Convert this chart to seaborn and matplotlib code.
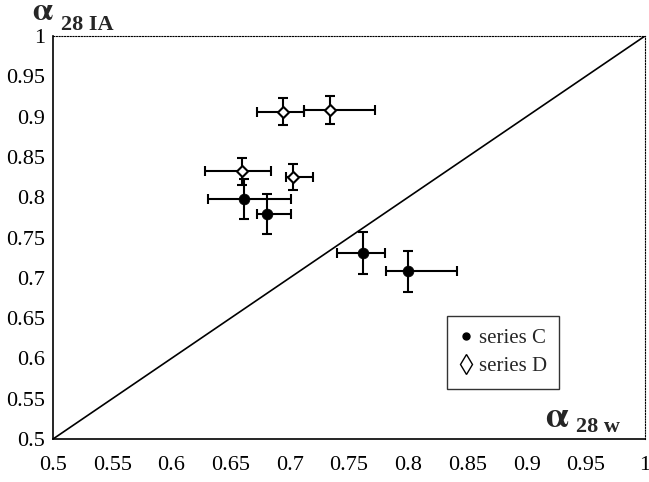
import numpy as np
import pandas as pd
import matplotlib
matplotlib.use("Agg")
import matplotlib.pyplot as plt
import seaborn as sns
from matplotlib.lines import Line2D

# ---- data ----
series_c_x = [0.661, 0.681, 0.762, 0.800]
series_c_y = [0.798, 0.779, 0.731, 0.708]
series_c_xerr_lo = [0.030, 0.009, 0.022, 0.019]
series_c_xerr_hi = [0.040, 0.020, 0.018, 0.041]
series_c_yerr = [0.025, 0.025, 0.026, 0.025]

series_d_x = [0.660, 0.703, 0.694, 0.734]
series_d_y = [0.832, 0.825, 0.906, 0.908]
series_d_xerr_lo = [0.032, 0.006, 0.022, 0.022]
series_d_xerr_hi = [0.024, 0.017, 0.018, 0.038]
series_d_yerr = [0.017, 0.016, 0.017, 0.017]

ticks = [0.5, 0.55, 0.6, 0.65, 0.7, 0.75, 0.8, 0.85, 0.9, 0.95, 1.0]
tick_labels = ["0.5", "0.55", "0.6", "0.65", "0.7", "0.75", "0.8", "0.85", "0.9", "0.95", "1"]
legend_labels = ["series C", "series D"]

df = pd.DataFrame({
    "x": series_c_x + series_d_x,
    "y": series_c_y + series_d_y,
    "series": ["C"] * 4 + ["D"] * 4,
})

sns.set_style("white")
plt.rcParams["font.family"] = ["Liberation Serif", "DejaVu Serif"]
plt.rcParams["mathtext.fontset"] = "stix"

fig = plt.figure(figsize=(6.49, 4.82), dpi=100)
ax = fig.add_axes([0.0817, 0.0892, 0.9121, 0.8361])

# diagonal y = x
ax.axline((0.5, 0.5), slope=1, color="black", lw=1.2, zorder=1)

# error bars
ax.errorbar(series_c_x, series_c_y, xerr=[series_c_xerr_lo, series_c_xerr_hi],
            yerr=series_c_yerr, fmt="none", ecolor="black", elinewidth=1.5,
            capsize=3.5, capthick=1.5, zorder=2)
ax.errorbar(series_d_x, series_d_y, xerr=[series_d_xerr_lo, series_d_xerr_hi],
            yerr=series_d_yerr, fmt="none", ecolor="black", elinewidth=1.5,
            capsize=3.5, capthick=1.5, zorder=2)

# points
sns.scatterplot(data=df[df.series == "C"], x="x", y="y", ax=ax, marker="o",
                s=60, color="black", edgecolor="black", linewidth=0.5, zorder=3, legend=False)
sns.scatterplot(data=df[df.series == "D"], x="x", y="y", ax=ax, marker="D",
                s=32, facecolor="white", edgecolor="black", linewidth=1.5, zorder=3, legend=False)

ax.set_xlim(0.5, 1.0)
ax.set_ylim(0.5, 1.0)
ax.set_xticks(ticks)
ax.set_yticks(ticks)
ax.set_xticklabels(tick_labels)
ax.set_yticklabels(tick_labels)
ax.set_xlabel("")
ax.set_ylabel("")
ax.tick_params(axis="both", direction="inout", length=7, width=1, color="black",
               labelsize=16, labelcolor="black")
ax.tick_params(axis="x", pad=9)
ax.tick_params(axis="y", pad=2)

for side in ["left", "bottom"]:
    ax.spines[side].set_color("black")
    ax.spines[side].set_linewidth(1.2)
for side in ["top", "right"]:
    ax.spines[side].set_visible(True)
    ax.spines[side].set_color("black")
    ax.spines[side].set_linewidth(0.8)
    ax.spines[side].set_linestyle((0, (1, 1.5)))

# axis titles
fig.text(0.050, 0.944, r"$\mathbf{\alpha}$", fontsize=23, ha="left", va="bottom")
fig.text(0.094, 0.938, "28 IA", fontsize=16, fontweight="bold", ha="left", va="baseline")
fig.text(0.840, 0.114, r"$\mathbf{\alpha}$", fontsize=26, ha="left", va="baseline")
fig.text(0.888, 0.104, "28 w", fontsize=16, fontweight="bold", ha="left", va="baseline")

handles = [
    Line2D([], [], ls="none", marker="o", markersize=5, color="black"),
    Line2D([], [], ls="none", marker="d", markersize=10, mfc="white", mec="black", mew=1.0),
]
leg = ax.legend(handles, legend_labels, loc="upper left", bbox_to_anchor=(0.666, 0.305),
                frameon=True, fancybox=False, fontsize=15, handlelength=0.6,
                handletextpad=0.3, borderpad=0.6, labelspacing=0.4, borderaxespad=0)
leg.get_frame().set_edgecolor("black")
leg.get_frame().set_linewidth(1.0)

fig.savefig("out.png", dpi=100)
